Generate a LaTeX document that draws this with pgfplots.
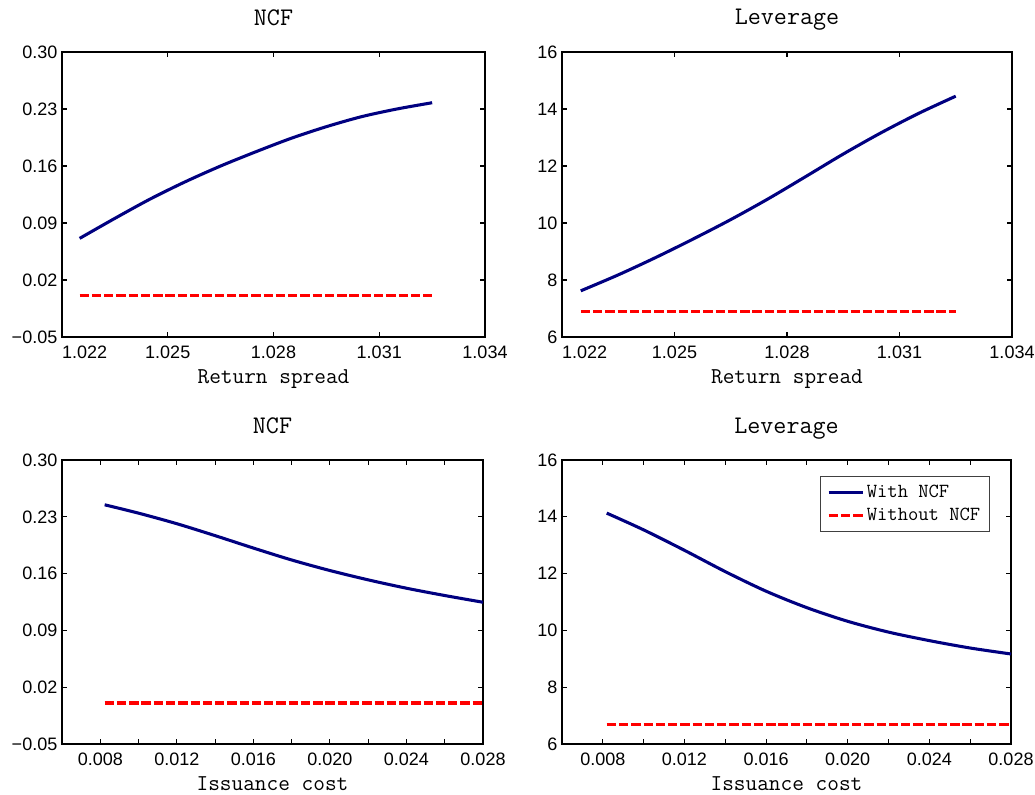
\documentclass[border=0pt]{standalone}
\usepackage{fontspec}
\usepackage{pgfplots}
\pgfplotsset{compat=1.18}
\newfontfamily\ticksf{Liberation Sans}
\newcommand\tickfont{\fontsize{13.5}{15}\selectfont\ticksf}
\newcommand\titlefont{\fontsize{19}{22}\selectfont\ttfamily}
\newcommand\labelfont{\fontsize{17}{20}\selectfont\ttfamily}
\newcommand\legendfont{\fontsize{15}{17}\selectfont\ttfamily}
\definecolor{ncfblue}{RGB}{0,0,128}
\definecolor{ncfred}{RGB}{255,0,0}
\pgfplotsset{
  panel/.style={
    scale only axis,
    anchor=south west,
    axis line style={line width=1.2pt},
    tick style={black, line width=0.8pt},
    tick align=inside,
    major tick length=4pt,
    minor tick length=4pt,
    ticklabel style={font=\tickfont},
    xticklabel style={yshift=-3.5pt},
    scaled x ticks=false,
    scaled y ticks=false,
    every axis title shift=0pt,
    title style={font=\titlefont, at={(axis description cs:0.5,1)}, anchor=base, yshift=20.25pt},
    xlabel style={font=\labelfont, at={(axis description cs:0.5,0)}, anchor=base, yshift=-34.5pt},
    clip=false,
  },
  withncf/.style={ncfblue, line width=2.3pt, smooth},
  withoutncf/.style={ncfred, line width=2.3pt, dash pattern=on 7pt off 2.2pt},
  ncfy/.style={ymin=-0.05, ymax=0.30,
    ytick={-0.05,0.02,0.09,0.16,0.23,0.30},
    yticklabels={−0.05,0.02,0.09,0.16,0.23,0.30}},
  levy/.style={ymin=6, ymax=16,
    ytick={6,8,10,12,14,16},
    yticklabels={6,8,10,12,14,16}},
  spreadx/.style={xmin=1.022, xmax=1.034,
    xtick={1.025,1.028,1.031,1.034},
    xticklabels={1.025,1.028,1.031,1.034},
    extra x ticks={1.022}, extra x tick labels={1.022},
    extra x tick style={xticklabel style={xshift=17pt}},
    xlabel={Return spread}},
  costx/.style={xmin=0.006, xmax=0.028,
    xtick={0.008,0.012,0.016,0.020,0.024,0.028},
    xticklabels={0.008,0.012,0.016,0.020,0.024,0.028},
    minor xtick={0.010,0.014,0.018,0.022,0.026},
    xlabel={Issuance cost}},
}
\begin{document}
\begin{tikzpicture}
\path[use as bounding box] (0,0) rectangle (776.25pt,-596.25pt);

% NCF against the return spread
\begin{axis}[panel, ncfy, spreadx, at={(46.5pt,-252.75pt)},
  width=317.25pt, height=213.75pt, title={NCF}]
\addplot[withncf] coordinates {
  (1.0225,0.0711) (1.0235,0.0957) (1.0245,0.1194) (1.0255,0.1407)
  (1.0265,0.1600) (1.0275,0.1775) (1.0285,0.1940) (1.0295,0.2083)
  (1.0305,0.2206) (1.0315,0.2300) (1.0325,0.2377)};
\addplot[withoutncf] coordinates {(1.0225,0.0005) (1.0275,0.0005) (1.0325,0.0005)};
\end{axis}

% Leverage against the return spread
\begin{axis}[panel, levy, spreadx, at={(421.5pt,-252.75pt)},
  width=337.5pt, height=213.75pt, title={Leverage}]
\addplot[withncf] coordinates {
  (1.0225,7.62) (1.0235,8.18) (1.0245,8.79) (1.0255,9.44)
  (1.0265,10.12) (1.0275,10.85) (1.0285,11.63) (1.0295,12.42)
  (1.0305,13.16) (1.0315,13.84) (1.0325,14.45)};
\addplot[withoutncf] coordinates {(1.0225,6.90) (1.0275,6.90) (1.0325,6.90)};
\end{axis}

% NCF against the issuance cost
\begin{axis}[panel, ncfy, costx, at={(46.5pt,-558pt)},
  width=315.75pt, height=213pt, title={NCF}]
\addplot[withncf] coordinates {
  (0.00823,0.2448) (0.010,0.2345) (0.012,0.2215) (0.014,0.2068)
  (0.016,0.1915) (0.018,0.1768) (0.020,0.1638) (0.022,0.1523)
  (0.024,0.1420) (0.026,0.1330) (0.028,0.1247)};
\addplot[withoutncf] coordinates {(0.00823,0.0005) (0.018,0.0005) (0.028,0.0005)};
\end{axis}

% Leverage against the issuance cost
\begin{axis}[panel, levy, costx, at={(421.5pt,-558pt)},
  width=336.75pt, height=213pt, title={Leverage},
  legend style={at={(axis description cs:0.953,0.944)}, anchor=north east,
    draw=black!75, line width=0.6pt, font=\legendfont,
    inner xsep=5pt, inner ysep=4.5pt, row sep=2.5pt},
  legend cell align=left,
  legend image code/.code={\draw[#1] (0pt,0pt) -- (25.5pt,0pt);}]
\addplot[withncf] coordinates {
  (0.00819,14.13) (0.010,13.54) (0.012,12.82) (0.014,12.07)
  (0.016,11.38) (0.018,10.80) (0.020,10.32) (0.022,9.94)
  (0.024,9.64) (0.026,9.38) (0.028,9.17)};
\addlegendentry{With NCF}
\addplot[withoutncf] coordinates {(0.00819,6.70) (0.018,6.70) (0.028,6.70)};
\addlegendentry{Without NCF}
\end{axis}
\end{tikzpicture}
\end{document}
